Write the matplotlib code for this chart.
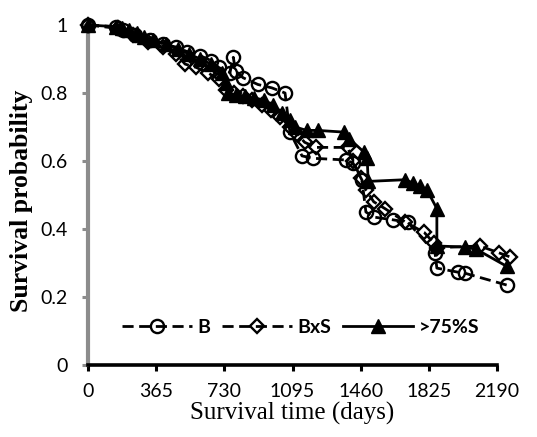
import matplotlib
matplotlib.use("Agg")
import matplotlib.pyplot as plt

# Kaplan-Meier style survival estimates for three groups
days_b = [0, 150, 190, 250, 330, 400, 470, 530, 600, 660, 700, 760, 778, 790, 830,
          910, 985, 1055, 1081, 1146, 1205, 1381, 1419, 1467, 1488, 1531, 1633,
          1713, 1858, 1868, 1981, 2018, 2243]
surv_b = [1.0, 0.995, 0.985, 0.97, 0.955, 0.945, 0.935, 0.922, 0.91, 0.895, 0.875,
          0.86, 0.905, 0.865, 0.845, 0.825, 0.815, 0.80, 0.685, 0.615, 0.608, 0.603,
          0.594, 0.544, 0.45, 0.435, 0.427, 0.42, 0.33, 0.285, 0.273, 0.27, 0.235]

days_bxs = [0, 160, 240, 320, 400, 470, 520, 580, 640, 700, 740, 780, 830, 880,
            930, 980, 1030, 1081, 1120, 1160, 1220, 1390, 1420, 1460, 1488, 1530,
            1590, 1700, 1800, 1850, 1868, 2098, 2200, 2259]
surv_bxs = [1.0, 0.99, 0.97, 0.95, 0.935, 0.915, 0.885, 0.875, 0.86, 0.84, 0.81,
            0.80, 0.79, 0.78, 0.765, 0.75, 0.73, 0.70, 0.68, 0.655, 0.64, 0.64,
            0.60, 0.55, 0.515, 0.48, 0.46, 0.42, 0.39, 0.36, 0.345, 0.35, 0.33, 0.318]

days_s75 = [0, 150, 180, 220, 260, 300, 350, 420, 480, 540, 600, 660, 720, 740,
            750, 790, 840, 890, 940, 990, 1040, 1080, 1110, 1170, 1230, 1370, 1400,
            1480, 1495, 1500, 1700, 1740, 1780, 1815, 1868, 1868, 2020, 2080, 2243]
surv_s75 = [1.0, 0.995, 0.99, 0.985, 0.975, 0.965, 0.955, 0.945, 0.93, 0.915, 0.90,
            0.885, 0.86, 0.83, 0.80, 0.795, 0.79, 0.785, 0.78, 0.765, 0.74, 0.72,
            0.70, 0.69, 0.69, 0.685, 0.665, 0.625, 0.61, 0.54, 0.545, 0.535, 0.525,
            0.515, 0.46, 0.35, 0.347, 0.34, 0.29]

labels = ["B", "BxS", ">75%S"]
xticks = [0, 365, 730, 1095, 1460, 1825, 2190]
yticks = [0, 0.2, 0.4, 0.6, 0.8, 1.0]
yticklabels = ["0", "0.2", "0.4", "0.6", "0.8", "1"]

fig = plt.figure(figsize=(5.37, 4.37), dpi=100)
ax = fig.add_axes([88 / 537, 1 - 365 / 437, 409 / 537, 340 / 437])

lw = 2.0
ax.plot(days_b, surv_b, color="black", lw=lw, dashes=(4, 2), marker="o",
        ms=9.5, mfc="none", mec="black", mew=1.7, clip_on=False, label=labels[0])
ax.plot(days_bxs, surv_bxs, color="black", lw=lw, dashes=(4, 2), marker="D",
        ms=7.5, mfc="none", mec="black", mew=1.7, clip_on=False, label=labels[1])
ax.plot(days_s75, surv_s75, color="black", lw=lw, ls="-", marker="^",
        ms=9.5, mfc="black", mec="black", clip_on=False, label=labels[2])

ax.set_xlim(0, 2190)
ax.set_ylim(0, 1)
ax.set_xticks(xticks)
ax.set_yticks(yticks)
ax.set_yticklabels(yticklabels)

for side in ("top", "right"):
    ax.spines[side].set_visible(False)
ax.spines["left"].set_color("#8c8c8c")
ax.spines["left"].set_linewidth(3)
ax.spines["bottom"].set_color("black")
ax.spines["bottom"].set_linewidth(2.6)
ax.spines["left"].set_zorder(1)

ax.tick_params(axis="y", colors="#8c8c8c", length=4.5, width=2.2, pad=10,
               labelcolor="black", labelsize=14, labelfontfamily="Lato")
ax.tick_params(axis="x", colors="black", length=4, width=2.2, pad=9,
               labelsize=14, labelfontfamily="Lato")

ax.set_xlabel("Survival time (days)", family="Liberation Serif", fontsize=18,
              labelpad=1.5)
fig.text(22 / 537, 1 - 201 / 437, "Survival probability", rotation=90,
         ha="center", va="center", family="Liberation Serif",
         fontweight="bold", fontsize=18.5)

leg = ax.legend(loc="center", bbox_to_anchor=(0.52, 0.11), ncol=3, frameon=False,
                numpoints=1, handlelength=3.6, handletextpad=0.3,
                columnspacing=0.6, prop={"family": "Lato", "weight": "bold",
                                         "size": 14})

fig.savefig("out.png", dpi=100)
